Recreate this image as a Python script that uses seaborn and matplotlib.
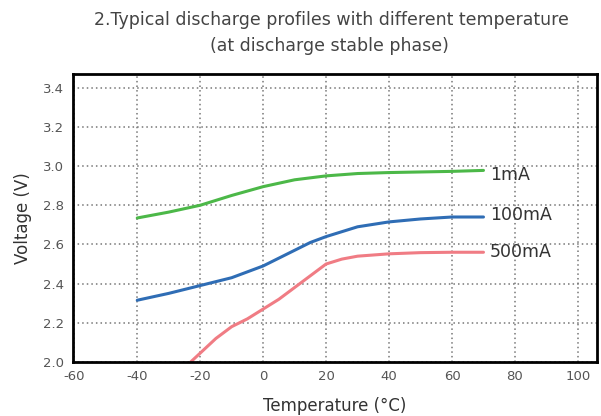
import pandas as pd
import seaborn as sns
import matplotlib.pyplot as plt

# values
temp_1ma = [-40, -30, -20, -10, 0, 10, 20, 30, 40, 50, 60, 70]
volt_1ma = [2.735, 2.765, 2.80, 2.85, 2.895, 2.93, 2.95, 2.962, 2.967, 2.97, 2.973, 2.978]

temp_100ma = [-40, -30, -20, -10, 0, 5, 10, 15, 20, 30, 40, 50, 60, 70]
volt_100ma = [2.315, 2.35, 2.39, 2.43, 2.49, 2.53, 2.57, 2.61, 2.64, 2.69, 2.715, 2.73, 2.74, 2.74]

temp_500ma = [-23, -15, -10, -5, 0, 5, 10, 15, 20, 25, 30, 40, 50, 60, 70]
volt_500ma = [2.0, 2.12, 2.18, 2.22, 2.27, 2.32, 2.38, 2.44, 2.50, 2.525, 2.54, 2.552, 2.558, 2.56, 2.56]

series_names = ["1mA", "100mA", "500mA"]
series_colors = ["#4cb848", "#2f6db5", "#f07c84"]
label_offsets = [-0.025, 0.01, 0.0]

frames = []
for name, t, v in zip(series_names,
                      [temp_1ma, temp_100ma, temp_500ma],
                      [volt_1ma, volt_100ma, volt_500ma]):
    frames.append(pd.DataFrame({"Temperature": t, "Voltage": v, "Current": name}))
df = pd.concat(frames, ignore_index=True)

sns.set_style("white")
plt.rcParams['font.family'] = ['DejaVu Sans']
plt.rcParams['axes.unicode_minus'] = False

fig = plt.figure(figsize=(6.01, 4.16), dpi=100)
ax = fig.add_axes([0.121, 0.130, 0.872, 0.692])

sns.lineplot(data=df, x="Temperature", y="Voltage", hue="Current",
             palette=series_colors, lw=2.2, legend=False, ax=ax, sort=False)

for name, t, v, off in zip(series_names,
                           [temp_1ma, temp_100ma, temp_500ma],
                           [volt_1ma, volt_100ma, volt_500ma], label_offsets):
    ax.text(t[-1] + 2, v[-1] + off, name, fontsize=12.5, color="#333333",
            va="center", ha="left")

ax.set_xlim(-60.5, 106)
ax.set_ylim(2.0, 3.47)
ax.set_xticks(range(-60, 101, 20))
ax.set_yticks([2.0, 2.2, 2.4, 2.6, 2.8, 3.0, 3.2, 3.4])
ax.set_yticklabels(["2.0", "2.2", "2.4", "2.6", "2.8", "3.0", "3.2", "3.4"])
ax.tick_params(axis="both", labelsize=9.5, colors="#555555", length=0, pad=6)
ax.grid(True, linestyle=(0, (1, 2)), color="#777777", lw=1.1)

for s in ax.spines.values():
    s.set_visible(True)
    s.set_color("black")
    s.set_linewidth(2)

ax.set_xlabel("Temperature (°C)", fontsize=12, color="#333333", labelpad=10)
ax.set_ylabel("Voltage (V)", fontsize=12, color="#333333", labelpad=8)

fig.text(0.552, 0.952, "2.Typical discharge profiles with different temperature",
         ha="center", va="center", fontsize=12.5, color="#444444")
fig.text(0.548, 0.89, "(at discharge stable phase)",
         ha="center", va="center", fontsize=12.5, color="#444444")

fig.savefig("out.png", dpi=100)
